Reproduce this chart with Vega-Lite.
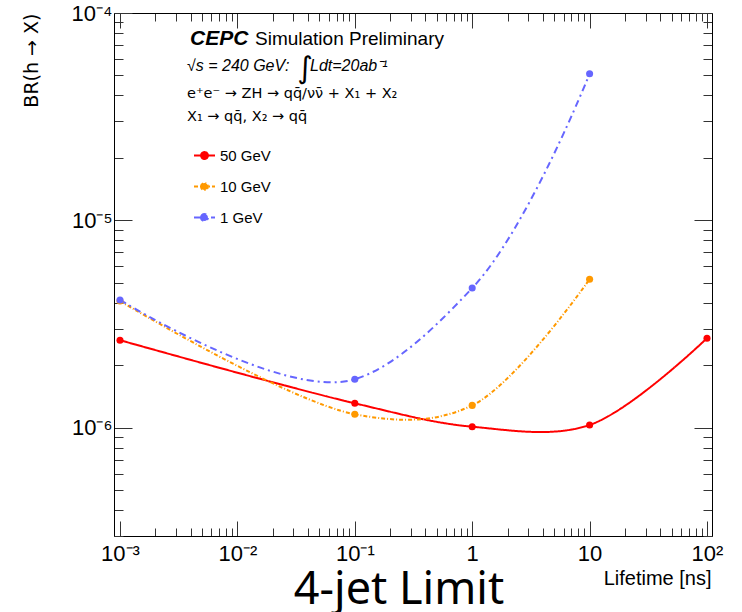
{
  "$schema": "https://vega.github.io/schema/vega-lite/v6.json",
  "width": 598,
  "height": 523,
  "autosize": {"type": "none"},
  "padding": {"left": 114, "top": 13, "right": 30, "bottom": 76},
  "background": "white",
  "config": {
    "view": {"stroke": null},
    "font": "Liberation Sans",
    "axis": {"domainColor": "#000", "domainWidth": 1, "tickColor": "#333", "tickWidth": 1, "grid": false, "labelFont": "Liberation Sans", "labelColor": "#000", "titleColor": "#000", "titleFont": "Liberation Sans", "titleFontWeight": "normal", "labelOverlap": false, "labelBound": false, "labelFlush": false}
  },
  "title": {"text": "4-jet Limit", "orient": "bottom", "font": "Noto Sans", "fontSize": 45, "fontWeight": "normal", "color": "#000", "anchor": "middle", "dx": -14, "offset": -20},
  "datasets": {
    "series": [
      {"tau": 0.001, "br": 2.64e-6, "mass": "50 GeV"},
      {"tau": 0.1, "br": 1.31e-6, "mass": "50 GeV"},
      {"tau": 1, "br": 1.01e-6, "mass": "50 GeV"},
      {"tau": 10, "br": 1.03e-6, "mass": "50 GeV"},
      {"tau": 100, "br": 2.70e-6, "mass": "50 GeV"},
      {"tau": 0.001, "br": 4.08e-6, "mass": "10 GeV"},
      {"tau": 0.1, "br": 1.16e-6, "mass": "10 GeV"},
      {"tau": 1, "br": 1.28e-6, "mass": "10 GeV"},
      {"tau": 10, "br": 5.2e-6, "mass": "10 GeV"},
      {"tau": 0.001, "br": 4.13e-6, "mass": "1 GeV"},
      {"tau": 0.1, "br": 1.71e-6, "mass": "1 GeV"},
      {"tau": 1, "br": 4.71e-6, "mass": "1 GeV"},
      {"tau": 10, "br": 5.09e-5, "mass": "1 GeV"}
    ],
    "notes": [
      {"x": 0.003947, "y": 6.987e-5, "t": "CEPC", "k": "cepc"},
      {"x": 0.014123, "y": 6.987e-5, "t": "Simulation Preliminary", "k": "sim"},
      {"x": 0.003721, "y": 5.252e-5, "t": "√s = 240 GeV:", "k": "it"},
      {"x": 0.04153, "y": 5.252e-5, "t": "Ldt=20ab⁻¹", "k": "it"},
      {"x": 0.03765, "y": 5.352e-5, "t": "∫", "k": "int"},
      {"x": 0.003721, "y": 3.877e-5, "t": "e⁺e⁻ → ZH → qq̄/νν̄ + X₁ + X₂", "k": "n"},
      {"x": 0.003721, "y": 3.002e-5, "t": "X₁ → qq̄, X₂ → qq̄", "k": "n"}
    ]
  },
  "layer": [
    {
      "data": {"name": "series"},
      "transform": [{"filter": "datum.mass != '1 GeV'"}],
      "mark": {"type": "line", "interpolate": "catmull-rom", "tension": 0.5, "strokeWidth": 2, "clip": true},
      "encoding": {
        "x": {"field": "tau", "type": "quantitative", "scale": {"type": "log", "domain": [0.000889, 110.3]},
          "axis": {"orient": "bottom", "values": [0.001,0.002,0.003,0.004,0.005,0.006,0.007,0.008,0.009,0.01,0.02,0.03,0.04,0.05,0.06,0.07,0.08,0.09,0.1,0.2,0.3,0.4,0.5,0.6,0.7,0.8,0.9,1,2,3,4,5,6,7,8,9,10,20,30,40,50,60,70,80,90,100],
            "tickSize": {"condition": {"test": "abs(log(datum.value)/LN10-round(log(datum.value)/LN10))<0.001", "value": -15}, "value": -8},
            "labelExpr": "abs(log(datum.value)/LN10-round(log(datum.value)/LN10))>0.001 ? '' : round(log(datum.value)/LN10)==-3 ? '10⁻³' : round(log(datum.value)/LN10)==-2 ? '10⁻²' : round(log(datum.value)/LN10)==-1 ? '10⁻¹' : round(log(datum.value)/LN10)==0 ? '1' : round(log(datum.value)/LN10)==1 ? '10' : '10²'",
            "labelFontSize": 22, "labelPadding": 22,
            "title": "Lifetime [ns]", "titleFontSize": 20, "titleAnchor": "end", "titleAlign": "right", "titleX": 597, "titleY": 48, "titleBaseline": "alphabetic"}},
        "y": {"field": "br", "type": "quantitative", "scale": {"type": "log", "domain": [3e-7, 1e-4]},
          "axis": {"orient": "left", "values": [3e-7,4e-7,5e-7,6e-7,7e-7,8e-7,9e-7,1e-6,2e-6,3e-6,4e-6,5e-6,6e-6,7e-6,8e-6,9e-6,1e-5,2e-5,3e-5,4e-5,5e-5,6e-5,7e-5,8e-5,9e-5,1e-4],
            "tickSize": {"condition": {"test": "abs(log(datum.value)/LN10-round(log(datum.value)/LN10))<0.001", "value": -18}, "value": -9},
            "labelExpr": "abs(log(datum.value)/LN10-round(log(datum.value)/LN10))>0.001 ? '' : round(log(datum.value)/LN10)==-6 ? '10⁻⁶' : round(log(datum.value)/LN10)==-5 ? '10⁻⁵' : '10⁻⁴'",
            "labelFontSize": 22, "labelPadding": 20,
            "title": "BR(h → X)", "titleFont": "DejaVu Sans", "titleFontSize": 19, "titleAngle": -90, "titleAnchor": "end", "titleAlign": "right", "titleX": -77, "titleY": 0, "titleBaseline": "alphabetic"}},
        "color": {"field": "mass", "type": "nominal", "scale": {"domain": ["50 GeV", "10 GeV", "1 GeV"], "range": ["#ff0000", "#ff9900", "#6666ff"]},
          "legend": {"title": null, "orient": "none", "legendX": 79, "legendY": 131, "padding": 0, "symbolType": "M-1,0L1,0M-0.33,0A0.33,0.33,0,1,1,0.33,0A0.33,0.33,0,1,1,-0.33,0Z", "symbolSize": 441, "symbolStrokeWidth": 2, "labelFont": "Liberation Sans", "labelFontSize": 15, "labelColor": "#000", "labelOffset": 4, "rowPadding": 11,
            "encode": {"symbols": {"update": {"fill": {"scale": "color", "field": "value"}, "fillOpacity": {"value": 1}}}}}},
        "strokeDash": {"field": "mass", "type": "nominal", "scale": {"domain": ["50 GeV", "10 GeV", "1 GeV"], "range": [[1, 0], [4, 2, 1, 2], [7, 4, 2, 4]]},
          "legend": {"title": null, "orient": "none", "legendX": 79, "legendY": 131, "padding": 0, "symbolType": "M-1,0L1,0M-0.33,0A0.33,0.33,0,1,1,0.33,0A0.33,0.33,0,1,1,-0.33,0Z", "symbolSize": 441, "symbolStrokeWidth": 2, "labelFont": "Liberation Sans", "labelFontSize": 15, "labelColor": "#000", "labelOffset": 4, "rowPadding": 11,
            "encode": {"symbols": {"update": {"fill": {"scale": "color", "field": "value"}, "fillOpacity": {"value": 1}}}}}}
      }
    },
    {
      "data": {"name": "series"},
      "transform": [{"filter": "datum.mass == '1 GeV'"}],
      "mark": {"type": "line", "interpolate": "catmull-rom", "tension": 1, "strokeWidth": 2, "clip": true},
      "encoding": {
        "x": {"field": "tau", "type": "quantitative", "scale": {"type": "log", "domain": [0.000889, 110.3]}, "axis": null},
        "y": {"field": "br", "type": "quantitative", "scale": {"type": "log", "domain": [3e-7, 1e-4]}, "axis": null},
        "color": {"field": "mass", "type": "nominal", "scale": {"domain": ["50 GeV", "10 GeV", "1 GeV"], "range": ["#ff0000", "#ff9900", "#6666ff"]}, "legend": null},
        "strokeDash": {"field": "mass", "type": "nominal", "scale": {"domain": ["50 GeV", "10 GeV", "1 GeV"], "range": [[1, 0], [4, 2, 1, 2], [7, 4, 2, 4]]}, "legend": null}
      }
    },
    {
      "data": {"name": "series"},
      "mark": {"type": "point", "filled": true, "size": 50, "opacity": 1, "shape": "circle"},
      "encoding": {
        "x": {"field": "tau", "type": "quantitative", "scale": {"type": "log", "domain": [0.000889, 110.3]},
          "axis": {"orient": "top", "values": [0.001,0.002,0.003,0.004,0.005,0.006,0.007,0.008,0.009,0.01,0.02,0.03,0.04,0.05,0.06,0.07,0.08,0.09,0.1,0.2,0.3,0.4,0.5,0.6,0.7,0.8,0.9,1,2,3,4,5,6,7,8,9,10,20,30,40,50,60,70,80,90,100],
            "tickSize": {"condition": {"test": "abs(log(datum.value)/LN10-round(log(datum.value)/LN10))<0.001", "value": -15}, "value": -8},
            "labels": false, "title": null}},
        "y": {"field": "br", "type": "quantitative", "scale": {"type": "log", "domain": [3e-7, 1e-4]},
          "axis": {"orient": "right", "values": [3e-7,4e-7,5e-7,6e-7,7e-7,8e-7,9e-7,1e-6,2e-6,3e-6,4e-6,5e-6,6e-6,7e-6,8e-6,9e-6,1e-5,2e-5,3e-5,4e-5,5e-5,6e-5,7e-5,8e-5,9e-5,1e-4],
            "tickSize": {"condition": {"test": "abs(log(datum.value)/LN10-round(log(datum.value)/LN10))<0.001", "value": -18}, "value": -9},
            "labels": false, "title": null}},
        "color": {"field": "mass", "type": "nominal", "scale": {"domain": ["50 GeV", "10 GeV", "1 GeV"], "range": ["#ff0000", "#ff9900", "#6666ff"]}, "legend": null}
      }
    },
    {
      "data": {"name": "notes"},
      "transform": [{"filter": "datum.k == 'cepc'"}],
      "mark": {"type": "text", "align": "left", "baseline": "alphabetic", "font": "Liberation Sans", "fontSize": 21, "fontWeight": "bold", "fontStyle": "italic", "color": "#000"},
      "encoding": {
        "x": {"field": "x", "type": "quantitative", "scale": {"type": "log", "domain": [0.000889, 110.3]}, "axis": null},
        "y": {"field": "y", "type": "quantitative", "scale": {"type": "log", "domain": [3e-7, 1e-4]}, "axis": null},
        "text": {"field": "t"}
      }
    },
    {
      "data": {"name": "notes"},
      "transform": [{"filter": "datum.k == 'sim'"}],
      "mark": {"type": "text", "align": "left", "baseline": "alphabetic", "font": "Liberation Sans", "fontSize": 19, "color": "#000"},
      "encoding": {
        "x": {"field": "x", "type": "quantitative", "scale": {"type": "log", "domain": [0.000889, 110.3]}, "axis": null},
        "y": {"field": "y", "type": "quantitative", "scale": {"type": "log", "domain": [3e-7, 1e-4]}, "axis": null},
        "text": {"field": "t"}
      }
    },
    {
      "data": {"name": "notes"},
      "transform": [{"filter": "datum.k == 'it'"}],
      "mark": {"type": "text", "align": "left", "baseline": "alphabetic", "font": "Liberation Sans", "fontSize": 16, "fontStyle": "italic", "color": "#000"},
      "encoding": {
        "x": {"field": "x", "type": "quantitative", "scale": {"type": "log", "domain": [0.000889, 110.3]}, "axis": null},
        "y": {"field": "y", "type": "quantitative", "scale": {"type": "log", "domain": [3e-7, 1e-4]}, "axis": null},
        "text": {"field": "t"}
      }
    },
    {
      "data": {"name": "notes"},
      "transform": [{"filter": "datum.k == 'int'"}],
      "mark": {"type": "text", "align": "center", "baseline": "middle", "font": "DejaVu Sans", "fontSize": 30, "color": "#000"},
      "encoding": {
        "x": {"field": "x", "type": "quantitative", "scale": {"type": "log", "domain": [0.000889, 110.3]}, "axis": null},
        "y": {"field": "y", "type": "quantitative", "scale": {"type": "log", "domain": [3e-7, 1e-4]}, "axis": null},
        "text": {"field": "t"}
      }
    },
    {
      "data": {"name": "notes"},
      "transform": [{"filter": "datum.k == 'n'"}],
      "mark": {"type": "text", "align": "left", "baseline": "alphabetic", "font": "DejaVu Sans", "fontSize": 14.5, "color": "#000"},
      "encoding": {
        "x": {"field": "x", "type": "quantitative", "scale": {"type": "log", "domain": [0.000889, 110.3]}, "axis": null},
        "y": {"field": "y", "type": "quantitative", "scale": {"type": "log", "domain": [3e-7, 1e-4]}, "axis": null},
        "text": {"field": "t"}
      }
    }
  ],
  "resolve": {"axis": {"x": "independent", "y": "independent"}}
}
